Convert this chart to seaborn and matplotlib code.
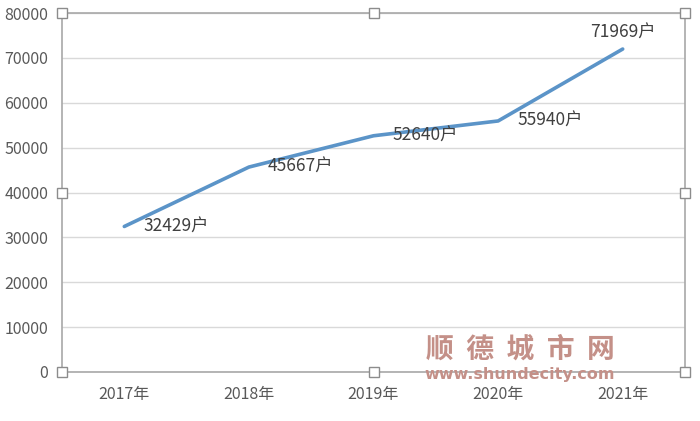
import pandas as pd
import seaborn as sns
import matplotlib
matplotlib.use('Agg')
import matplotlib.pyplot as plt

years = ['2017年', '2018年', '2019年', '2020年', '2021年']
households = [32429, 45667, 52640, 55940, 71969]
value_labels = ['32429户', '45667户', '52640户', '55940户', '71969户']
label_pos = ['right', 'right', 'right', 'right', 'above']
y_ticks = [0, 10000, 20000, 30000, 40000, 50000, 60000, 70000, 80000]

sns.set_style('white')
plt.rcParams['font.family'] = ['Noto Sans CJK SC', 'DejaVu Sans']

data = pd.DataFrame({'year': years, 'households': households})

fig = plt.figure(figsize=(7, 4.21), dpi=100)
ax = fig.add_axes([62 / 700, 49 / 421, 623 / 700, 359 / 421])

sns.lineplot(data=data, x='year', y='households', ax=ax,
             color='#5b94c8', linewidth=2.6, sort=False)

ax.set_xlim(-0.5, 4.5)
ax.set_ylim(0, 80000)
ax.set_yticks(y_ticks)
ax.set_yticklabels([str(v) for v in y_ticks])
ax.set_xlabel('')
ax.set_ylabel('')
ax.grid(axis='y', color='#d9d9d9', linewidth=1)
ax.set_axisbelow(True)
ax.tick_params(length=0, labelsize=11.5, labelcolor='#595959')
ax.tick_params(axis='y', pad=10)
ax.tick_params(axis='x', pad=10)

for s in ax.spines.values():
  s.set_color('#a8a8a8')
  s.set_linewidth(1.2)

# data labels
for i, (v, txt, pos) in enumerate(zip(households, value_labels, label_pos)):
  if pos == 'right':
    ax.annotate(txt, (i, v), xytext=(19, 0), textcoords='offset pixels',
                ha='left', va='center', fontsize=12.5, color='#404040')
  else:
    ax.annotate(txt, (i, v), xytext=(0, 16), textcoords='offset pixels',
                ha='center', va='center', fontsize=12.5, color='#404040')

# selection handles of the chart frame
for hx, hy in [(0, 0), (0.5, 0), (1, 0), (0, 0.5), (1, 0.5), (0, 1), (0.5, 1), (1, 1)]:
  ax.plot(hx, hy, marker='s', markersize=6.5, markerfacecolor='white',
          markeredgecolor='#8c8c8c', markeredgewidth=1,
          transform=ax.transAxes, clip_on=False, zorder=10)

# watermark
fig.text(520 / 700, 1 - 350 / 421, '顺  德  城  市  网', ha='center', va='center',
         fontsize=20, fontweight='bold', color='#c49088', zorder=20)
fig.text(520 / 700, 1 - 374 / 421, 'www.shundecity.com', ha='center', va='center',
         fontsize=11.5, fontweight='bold', color='#c49088', family='DejaVu Sans',
         zorder=20)

fig.savefig('out.png', dpi=100)
